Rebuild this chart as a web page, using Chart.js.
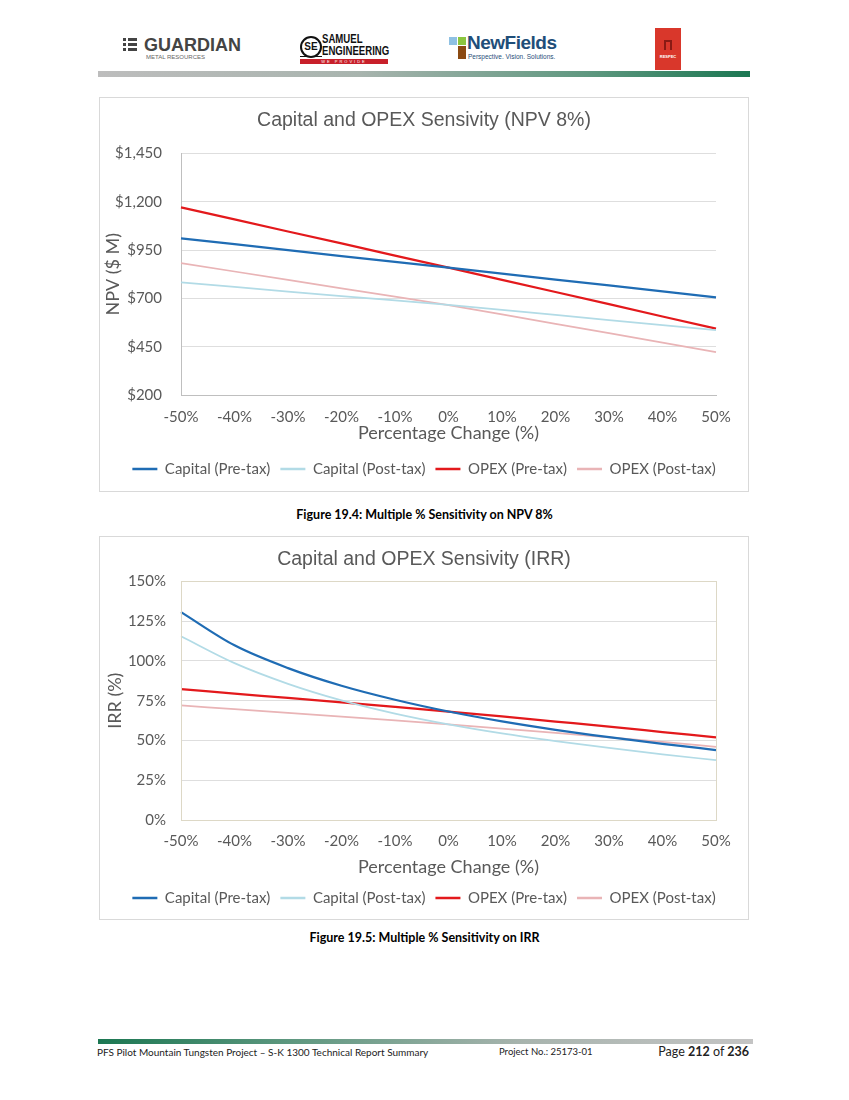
<!DOCTYPE html>
<html>
<head>
<meta charset="utf-8">
<script src="https://cdn.jsdelivr.net/npm/chart.js@4.4.1/dist/chart.umd.min.js"></script>
<style>
  html, body { margin: 0; padding: 0; background: #fff; }
  body { width: 849px; height: 1100px; position: relative; overflow: hidden; font-family: Lato, "Open Sans", sans-serif; }
  .abs { position: absolute; }
  .box { position: absolute; border: 1px solid #d9d9d9; background: #fff; }
  .caption { position: absolute; left: 0; width: 849px; text-align: center; font-weight: bold; font-size: 12.5px; color: #000; }
</style>
</head>
<body>
<script>
// ---------- DATA ----------
const categories = ['-50%', '-40%', '-30%', '-20%', '-10%', '0%', '10%', '20%', '30%', '40%', '50%'];
const seriesNames = ['Capital (Pre-tax)', 'Capital (Post-tax)', 'OPEX (Pre-tax)', 'OPEX (Post-tax)'];

// NPV 8% ($ M)
const npvCapitalPre  = [1010, 980, 950, 919, 889, 859, 828, 797, 767, 736, 705];
const npvCapitalPost = [783, 759, 735, 712, 689, 666, 640, 614, 588, 562, 536];
const npvOpexPre     = [1171, 1109, 1046, 984, 921, 859, 796, 733, 670, 606, 543];
const npvOpexPost    = [882, 839, 796, 752, 709, 665, 617, 568, 520, 471, 422];

// IRR (%)
const irrCapitalPre  = [130.7, 109.8, 95.5, 84.4, 75.6, 68.2, 62.0, 56.7, 52.1, 47.9, 44.0];
const irrCapitalPost = [115.5, 98.6, 85.6, 75.2, 66.9, 60.1, 54.4, 49.6, 45.3, 41.3, 37.6];
const irrOpexPre     = [82.3, 79.5, 76.7, 73.9, 71.1, 68.2, 65.1, 61.9, 58.7, 55.3, 51.9];
const irrOpexPost    = [72.0, 69.7, 67.4, 65.0, 62.6, 60.1, 57.5, 54.8, 52.0, 49.1, 46.0];

const npvTicks = [200, 450, 700, 950, 1200, 1450];
const irrTicks = [0, 25, 50, 75, 100, 125, 150];
</script>

<!-- Header -->
<div class="abs" style="left:123px;top:37px;width:14px;height:16px;">
  <div style="position:absolute;left:0;top:1px;width:3px;height:3px;background:#444;"></div>
  <div style="position:absolute;left:5px;top:1px;width:9px;height:3px;background:#444;"></div>
  <div style="position:absolute;left:0;top:6px;width:3px;height:3px;background:#444;"></div>
  <div style="position:absolute;left:5px;top:6px;width:9px;height:3px;background:#444;"></div>
  <div style="position:absolute;left:0;top:11px;width:3px;height:3px;background:#444;"></div>
  <div style="position:absolute;left:5px;top:11px;width:9px;height:3px;background:#444;"></div>
</div>
<div class="abs" style="left:144px;top:35px;font-family:'Liberation Sans',Arial,sans-serif;font-weight:bold;font-size:18px;color:#444;">GUARDIAN</div>
<div class="abs" style="left:146px;top:54px;font-family:'Liberation Sans',Arial,sans-serif;font-size:6px;color:#666;">METAL RESOURCES</div>

<div class="abs" style="left:300px;top:36px;width:18px;height:18px;border:2px solid #111;border-radius:50%;font-family:'Liberation Sans',Arial,sans-serif;font-weight:bold;font-size:10px;line-height:18px;text-align:center;color:#111;">SE</div>
<div class="abs" style="left:300px;top:56px;width:22px;height:1px;background:#111;"></div>
<div class="abs" style="left:322px;top:34px;font-family:'Liberation Sans Narrow','Liberation Sans',Arial,sans-serif;font-weight:bold;font-size:12px;line-height:11.5px;color:#111;transform:scaleX(0.8);transform-origin:left;">SAMUEL<br>ENGINEERING</div>
<div class="abs" style="left:300px;top:59px;width:88px;height:5px;background:#c8202a;color:#fff;font-size:4px;line-height:5px;text-align:center;letter-spacing:2px;font-family:'Liberation Sans',Arial,sans-serif;">WE PROVIDE SOLUTIONS</div>

<div class="abs" style="left:449px;top:37px;width:8px;height:8px;background:#8fc1e3;"></div>
<div class="abs" style="left:458px;top:37px;width:8px;height:8px;background:#8cc63f;"></div>
<div class="abs" style="left:458px;top:46px;width:8px;height:13px;background:#8b4a12;"></div>
<div class="abs" style="left:467px;top:32px;font-family:'Liberation Sans',Arial,sans-serif;font-weight:bold;font-size:19px;color:#1f4e79;letter-spacing:-0.5px;">NewFields</div>
<div class="abs" style="left:468px;top:53px;font-family:'Liberation Sans',Arial,sans-serif;font-size:6.5px;color:#1f4e79;">Perspective. Vision. Solutions.</div>

<div class="abs" style="left:655px;top:28px;width:26px;height:42px;background:#d9372b;"></div>
<div class="abs" style="left:664px;top:40px;width:8px;height:10px;border:2px solid #8a1a14;border-bottom:none;box-sizing:border-box;"></div>
<div class="abs" style="left:656px;top:54px;width:24px;font-size:4px;color:#fff;text-align:center;font-family:'Liberation Sans',Arial,sans-serif;font-weight:bold;">RESPEC</div>

<div class="abs" style="left:98px;top:71px;width:652px;height:6px;background:linear-gradient(to right,#bdbdbd 0%,#a8b4ae 40%,#5f9880 75%,#1b7752 100%);"></div>

<!-- Chart 1 -->
<div class="box" style="left:99px;top:97px;width:648px;height:393px;">
  <canvas id="c1"></canvas>
</div>
<div class="caption" style="top:507px;">Figure 19.4: Multiple % Sensitivity on NPV 8%</div>

<!-- Chart 2 -->
<div class="box" style="left:99px;top:536px;width:648px;height:382px;">
  <canvas id="c2"></canvas>
</div>
<div class="caption" style="top:930px;">Figure 19.5: Multiple % Sensitivity on IRR</div>

<!-- Footer -->
<div class="abs" style="left:98px;top:1039px;width:655px;height:5px;background:linear-gradient(to right,#1b7752 0%,#5f9880 30%,#a8b4ae 65%,#c4c4c4 100%);"></div>
<div class="abs" style="left:97px;top:1046px;font-size:10px;color:#222;">PFS Pilot Mountain Tungsten Project – S-K 1300 Technical Report Summary</div>
<div class="abs" style="left:499px;top:1046px;font-size:9.5px;color:#222;">Project No.: 25173-01</div>
<div class="abs" style="left:614px;top:1044px;width:135px;text-align:right;font-size:12.5px;color:#222;">Page <b>212</b> of <b>236</b></div>

<script>
const COLORS = ['#1f6cb4', '#b2dbe6', '#e3191c', '#e9b4b6'];
const WIDTHS = [2.25, 1.75, 2.25, 1.75];
const TXT = '#595959';
const FONT = 'Lato, "Open Sans", sans-serif';

function makeDatasets(arrs, tension) {
  return arrs.map((d, i) => ({
    label: seriesNames[i],
    data: d,
    borderColor: COLORS[i],
    backgroundColor: COLORS[i],
    borderWidth: WIDTHS[i],
    pointRadius: 0,
    pointHoverRadius: 0,
    fill: false,
    tension: tension,
    cubicInterpolationMode: tension > 0 ? 'monotone' : 'default'
  }));
}

const plotBorder = {
  id: 'plotBorder',
  afterDatasetsDraw(chart, args, opts) {
    if (!opts || !opts.color) return;
    const a = chart.chartArea, ctx = chart.ctx;
    ctx.save();
    ctx.strokeStyle = opts.color;
    ctx.lineWidth = 1;
    ctx.strokeRect(Math.round(a.left) + 0.5, Math.round(a.top) + 0.5, Math.round(a.right - a.left), Math.round(a.bottom - a.top));
    ctx.restore();
  }
};

function makeChart(id, cfg) {
  return new Chart(document.getElementById(id), {
    type: 'line',
    data: { labels: categories, datasets: makeDatasets(cfg.data, cfg.tension) },
    plugins: [plotBorder],
    options: {
      responsive: true,
      maintainAspectRatio: false,
      animation: false,
      layout: { padding: { left: 0, right: 0, top: 0, bottom: cfg.padBottom } },
      plugins: {
        title: {
          display: true, text: cfg.title, color: TXT,
          font: { family: '"Liberation Sans", Arial, sans-serif', size: 19.5, weight: 'normal', lineHeight: 1.2 },
          padding: { top: 11, bottom: cfg.titlePadBottom }
        },
        legend: {
          position: 'bottom',
          labels: {
            color: TXT, boxWidth: 25, boxHeight: 2.5, padding: 10,
            font: { family: FONT, size: 15, lineHeight: 1 },
            generateLabels(chart) {
              return Chart.defaults.plugins.legend.labels.generateLabels(chart).map(l => Object.assign(l, { lineWidth: 0 }));
            }
          }
        },
        tooltip: { enabled: false },
        plotBorder: { color: cfg.borderColor }
      },
      scales: {
        x: {
          afterFit(scale) { scale.height = cfg.xHeight; },
          grid: { display: false, drawTicks: false },
          border: { display: true, color: cfg.axisColor, width: 1 },
          ticks: { color: TXT, padding: cfg.xTickPad, maxRotation: 0, autoSkip: false, font: { family: FONT, size: 15, lineHeight: 1 } },
          title: { display: true, text: 'Percentage Change (%)', color: TXT, font: { family: FONT, size: 18, lineHeight: 1 }, padding: { top: 0, bottom: cfg.xTitlePadBottom } }
        },
        y: {
          min: cfg.min, max: cfg.max,
          afterFit(scale) { scale.width = 81; },
          afterBuildTicks(scale) { scale.ticks = cfg.ticks.map(v => ({ value: v })); },
          grid: { color: '#dedede', lineWidth: 1, drawTicks: false },
          border: { display: true, color: cfg.axisColor, width: 1 },
          ticks: { color: TXT, padding: cfg.tickPad, font: { family: FONT, size: 15, lineHeight: 1 }, callback: cfg.fmt },
          title: { display: true, text: cfg.yTitle, color: TXT, font: { family: FONT, size: 18, lineHeight: 1 }, padding: { top: cfg.yTitlePad, bottom: 0 } }
        },
        yRight: {
          position: 'right',
          display: true,
          afterFit(scale) { scale.width = 32; },
          grid: { display: false, drawOnChartArea: false, drawTicks: false },
          border: { display: false },
          ticks: { display: false }
        }
      }
    }
  });
}

makeChart('c1', {
  title: 'Capital and OPEX Sensivity (NPV 8%)',
  data: [npvCapitalPre, npvCapitalPost, npvOpexPre, npvOpexPost],
  tension: 0,
  min: 200, max: 1450, ticks: npvTicks,
  fmt: v => '$' + Number(v).toLocaleString('en-US'),
  yTitle: 'NPV ($ M)', yTitlePad: 4, tickPad: 19,
  titlePadBottom: 21, xHeight: 56.5, xTickPad: 14.5, xTitlePadBottom: 9.5, padBottom: 4.5,
  axisColor: '#bfbfbf', borderColor: null
});

makeChart('c2', {
  title: 'Capital and OPEX Sensivity (IRR)',
  data: [irrCapitalPre, irrCapitalPost, irrOpexPre, irrOpexPost],
  tension: 0.4,
  min: 0, max: 150, ticks: irrTicks,
  fmt: v => v + '%',
  yTitle: 'IRR (%)', yTitlePad: 6, tickPad: 15,
  titlePadBottom: 10, xHeight: 60.5, xTickPad: 13.5, xTitlePadBottom: 4.5, padBottom: 3.5,
  axisColor: '#ddd8c6', borderColor: '#ddd8c6'
});
</script>
</body>
</html>
